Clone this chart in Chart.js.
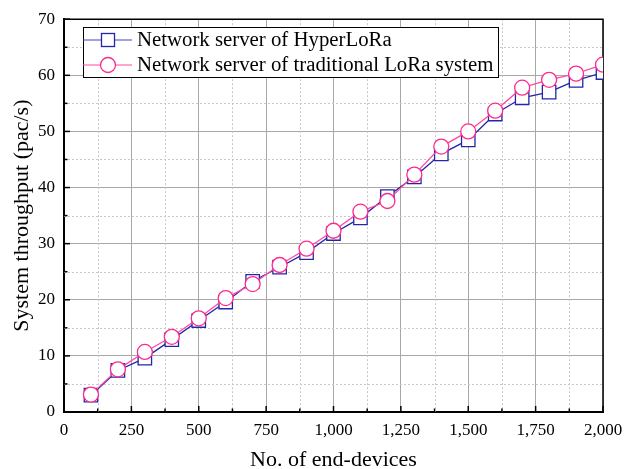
<!DOCTYPE html>
<html>
<head>
<meta charset="utf-8">
<script src="https://cdn.jsdelivr.net/npm/chart.js@4/dist/chart.umd.min.js"></script>
<style>
html,body{margin:0;padding:0;background:#fff;}
#wrap{width:634px;height:469px;position:relative;}
</style>
</head>
<body>
<div id="wrap"><canvas id="c" width="634" height="469"></canvas></div>
<script>
const devices = [100,200,300,400,500,600,700,800,900,1000,1100,1200,1300,1400,1500,1600,1700,1800,1900,2000];
const hyperLoRa = [3.0,7.4,9.6,12.9,16.3,19.6,23.3,25.8,28.4,31.8,34.6,38.4,41.9,46.0,48.5,53.1,56.0,57.0,59.1,60.5];
const traditional = [3.1,7.6,10.7,13.4,16.7,20.3,22.8,26.2,29.1,32.3,35.7,37.6,42.3,47.3,50.0,53.7,57.8,59.2,60.3,61.9];
const seriesNames = ['Network server of HyperLoRa','Network server of traditional LoRa system'];
const xTitle = 'No. of end-devices';
const yTitle = 'System throughput (pac/s)';

const FONT = '"Liberation Serif","Times New Roman",serif';
const BLUE_LINE = '#2323b0', BLUE_MK = '#2525a8';
const PINK_LINE = '#ff4aa2', PINK_MK = '#ff2a8c';

const framePlugin = {
  id: 'frame',
  beforeDatasetsDraw(chart) {
    const {ctx, chartArea: a, scales: {x, y}} = chart;
    ctx.save();
    ctx.strokeStyle = '#c8c8c8';
    ctx.lineWidth = 1;
    ctx.setLineDash([2, 2]);
    for (let v = 125; v < 2000; v += 250) {
      const px = Math.round(x.getPixelForValue(v)) + 0.5;
      ctx.beginPath(); ctx.moveTo(px, a.top); ctx.lineTo(px, a.bottom); ctx.stroke();
    }
    for (let v = 5; v < 70; v += 10) {
      const py = Math.round(y.getPixelForValue(v)) + 0.5;
      ctx.beginPath(); ctx.moveTo(a.left, py); ctx.lineTo(a.right, py); ctx.stroke();
    }
    ctx.setLineDash([]);
    ctx.strokeStyle = '#000';
    ctx.lineWidth = 1.5;
    for (let v = 0; v <= 2000; v += 125) {
      const px = x.getPixelForValue(v);
      const len = (v % 250 === 0) ? 6 : 3.5;
      ctx.beginPath(); ctx.moveTo(px, a.bottom); ctx.lineTo(px, a.bottom - len); ctx.stroke();
    }
    for (let v = 0; v <= 70; v += 5) {
      const py = y.getPixelForValue(v);
      const len = (v % 10 === 0) ? 6 : 3.5;
      ctx.beginPath(); ctx.moveTo(a.left, py); ctx.lineTo(a.left + len, py); ctx.stroke();
    }
    ctx.lineWidth = 1.5;
    ctx.beginPath();
    ctx.moveTo(a.left, a.top); ctx.lineTo(a.right, a.top); ctx.lineTo(a.right, a.bottom);
    ctx.stroke();
    ctx.restore();
  },
  afterDraw(chart) {
    const {ctx} = chart;
    ctx.save();
    const bx = 83, by = 27, bw = 415, bh = 50;
    ctx.fillStyle = '#fff';
    ctx.fillRect(bx, by, bw, bh);
    ctx.strokeStyle = '#000';
    ctx.lineWidth = 1;
    ctx.strokeRect(bx + 0.5, by + 0.5, bw, bh);
    const rows = [
      {name: seriesNames[0], line: '#4545c0', mk: BLUE_MK, shape: 'rect', yc: 40},
      {name: seriesNames[1], line: PINK_LINE, mk: PINK_MK, shape: 'circle', yc: 65}
    ];
    rows.forEach(r => {
      ctx.strokeStyle = r.line; ctx.lineWidth = 1.2;
      ctx.beginPath(); ctx.moveTo(bx, r.yc); ctx.lineTo(bx + 49, r.yc); ctx.stroke();
      ctx.fillStyle = '#fff'; ctx.strokeStyle = r.mk; ctx.lineWidth = 1.3;
      if (r.shape === 'rect') {
        ctx.fillRect(bx + 18.5, r.yc - 6.5, 13, 13); ctx.strokeRect(bx + 18.5, r.yc - 6.5, 13, 13);
      } else {
        ctx.beginPath(); ctx.arc(bx + 25, r.yc, 7.5, 0, Math.PI * 2); ctx.fill(); ctx.stroke();
      }
      ctx.fillStyle = '#000';
      ctx.font = '20.8px ' + FONT;
      ctx.textBaseline = 'middle';
      ctx.textAlign = 'left';
      ctx.fillText(r.name, bx + 54, r.yc + 1);
    });
    ctx.restore();
  }
};

new Chart(document.getElementById('c'), {
  type: 'line',
  data: {
    datasets: [
      {
        label: seriesNames[0],
        data: devices.map((d, i) => ({x: d, y: hyperLoRa[i]})),
        borderColor: BLUE_LINE, borderWidth: 1.3,
        pointStyle: 'rect', pointRadius: 9.5, pointBorderColor: BLUE_MK,
        pointBackgroundColor: '#fff', pointBorderWidth: 1.3,
        tension: 0, order: 2
      },
      {
        label: seriesNames[1],
        data: devices.map((d, i) => ({x: d, y: traditional[i]})),
        borderColor: PINK_LINE, borderWidth: 1.3,
        pointStyle: 'circle', pointRadius: 7.5, pointBorderColor: PINK_MK,
        pointBackgroundColor: '#fff', pointBorderWidth: 1.3,
        tension: 0, order: 1
      }
    ]
  },
  options: {
    responsive: false,
    animation: false,
    layout: {padding: {top: 16, right: 31, left: 0, bottom: 0}},
    plugins: {legend: {display: false}, tooltip: {enabled: false}},
    scales: {
      x: {
        type: 'linear', min: 0, max: 2000,
        ticks: {stepSize: 250, color: '#000', font: {family: FONT, size: 17}, padding: 8,
          maxRotation: 0, autoSkip: false,
          callback: v => v.toLocaleString('en-US')},
        grid: {color: '#a8a8a8', lineWidth: 1, drawTicks: false},
        border: {color: '#000', width: 2},
        title: {display: true, text: xTitle, color: '#000', font: {family: FONT, size: 22}, padding: {top: 6, bottom: -4}},
        afterFit: s => { s.height = 57; }
      },
      y: {
        type: 'linear', min: 0, max: 70,
        ticks: {stepSize: 10, color: '#000', font: {family: FONT, size: 17}, padding: 9},
        grid: {color: '#a8a8a8', lineWidth: 1, drawTicks: false},
        border: {color: '#000', width: 2},
        title: {display: true, text: yTitle, color: '#000', font: {family: FONT, size: 22}, padding: {top: 9, bottom: 0}},
        afterFit: s => { s.width = 64; }
      }
    }
  },
  plugins: [framePlugin]
});
</script>
</body>
</html>
